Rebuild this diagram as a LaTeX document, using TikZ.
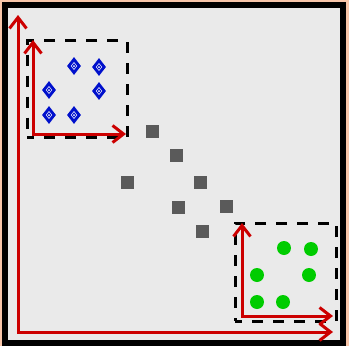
\documentclass[tikz,border=0pt]{standalone}
\usetikzlibrary{arrows.meta,shapes.geometric}
\definecolor{peach}{HTML}{F8C6AA}
\definecolor{panel}{HTML}{EAEAEA}
\definecolor{axisred}{HTML}{CC0000}
\definecolor{markblue}{HTML}{0010CC}
\definecolor{markgreen}{HTML}{00CC00}
\definecolor{markgray}{HTML}{5A5A5A}
\tikzset{
  axis/.style={draw=axisred, line width=3pt, line join=miter,
    {Straight Barb[length=11pt,width=17pt]}-{Straight Barb[length=11pt,width=17pt]}},
  dashbox/.style={draw=black, line width=3pt, dash pattern=on 11pt off 10pt, dash phase=4pt,
    minimum width=#1, inner sep=0pt, rectangle},
  bluemark/.style={diamond, fill=markblue, inner sep=0pt, minimum width=14pt, minimum height=18pt,
    path picture={
      \draw[white, line width=0.5pt] (path picture bounding box.center) ++(0,3.5) -- ++(2.8,-3.5)
        -- ++(-2.8,-3.5) -- ++(-2.8,3.5) -- cycle;
      \fill[white] (path picture bounding box.center) circle (1pt);}},
  graymark/.style={rectangle, fill=markgray, inner sep=0pt, minimum size=13pt},
  greenmark/.style={circle, fill=markgreen, inner sep=0pt, minimum size=14pt},
}
\begin{document}
\begin{tikzpicture}[x=1pt,y=-1pt]
  % canvas and outer frame
  \fill[peach] (0,0) rectangle (349,346);
  \useasboundingbox (0,0) rectangle (349,346);
  \fill[panel] (5,5) rectangle (343,343);
  \draw[black, line width=6pt] (5,5) rectangle (343,343);

  % main axes
  \coordinate (O) at (18,332);
  \coordinate (Ytop) at (18,15);
  \coordinate (Xend) at (333,332);
  \draw[axis] (Ytop) -- (O) -- (Xend);

  % upper-left cluster
  \node[dashbox=100pt, minimum height=97pt] (boxA) at (77,89) {};
  \coordinate (Ao) at (33,134);
  \coordinate (Ay) at (33,40);
  \coordinate (Ax) at (126,134);
  \draw[axis] (Ay) -- (Ao) -- (Ax);
  \node[bluemark] (b1) at (74,66) {};
  \node[bluemark] (b2) at (99,67) {};
  \node[bluemark] (b3) at (49,90) {};
  \node[bluemark] (b4) at (99,91) {};
  \node[bluemark] (b5) at (49,115) {};
  \node[bluemark] (b6) at (74,115) {};

  % middle points
  \node[graymark] (g1) at (152,131) {};
  \node[graymark] (g2) at (176,155) {};
  \node[graymark] (g3) at (127,182) {};
  \node[graymark] (g4) at (200,182) {};
  \node[graymark] (g5) at (178,207) {};
  \node[graymark] (g6) at (226,206) {};
  \node[graymark] (g7) at (202,231) {};

  % lower-right cluster
  \node[dashbox=101pt, minimum height=98pt] (boxB) at (285.5,272) {};
  \coordinate (Bo) at (242,316);
  \coordinate (By) at (242,223);
  \coordinate (Bx) at (333,316);
  \draw[axis] (By) -- (Bo) -- (Bx);
  \node[greenmark] (c1) at (284,248) {};
  \node[greenmark] (c2) at (311,249) {};
  \node[greenmark] (c3) at (257,275) {};
  \node[greenmark] (c4) at (309,275) {};
  \node[greenmark] (c5) at (257,302) {};
  \node[greenmark] (c6) at (283,302) {};
\end{tikzpicture}
\end{document}
